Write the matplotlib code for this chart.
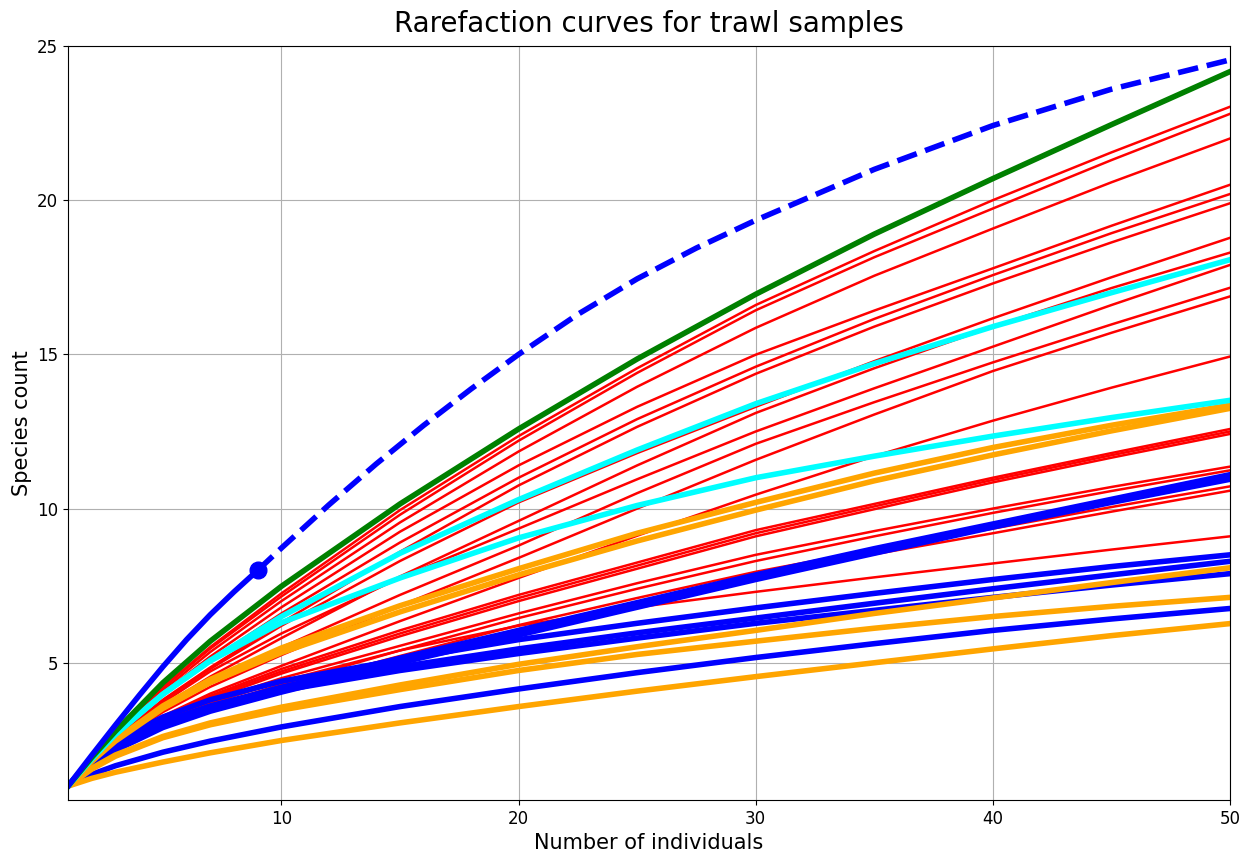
import matplotlib
matplotlib.use("Agg")
import matplotlib.pyplot as plt

# Sample sizes (number of individuals) at which curves were read
x_pts = [1, 2, 3, 5, 7, 10, 15, 20, 25, 30, 35, 40, 45, 50]

# Red samples (thin lines)
red_values = [
    [1, 1.90, 2.73, 4.21, 5.51, 7.25, 9.95, 12.35, 14.55, 16.60, 18.35, 20.00, 21.55, 23.03],
    [1, 1.90, 2.72, 4.18, 5.46, 7.15, 9.80, 12.20, 14.40, 16.43, 18.15, 19.73, 21.30, 22.80],
    [1, 1.89, 2.68, 4.10, 5.35, 7.00, 9.55, 11.85, 13.95, 15.86, 17.55, 19.08, 20.58, 22.00],
    [1, 1.88, 2.66, 4.02, 5.20, 6.80, 9.25, 11.40, 13.30, 14.99, 16.42, 17.79, 19.17, 20.50],
    [1, 1.86, 2.62, 3.94, 5.08, 6.60, 8.90, 11.00, 12.90, 14.60, 16.15, 17.57, 18.93, 20.20],
    [1, 1.84, 2.56, 3.80, 4.85, 6.30, 8.60, 10.75, 12.65, 14.37, 15.90, 17.30, 18.63, 19.90],
    [1, 1.84, 2.55, 3.77, 4.80, 6.20, 8.30, 10.20, 11.80, 13.30, 14.78, 16.17, 17.50, 18.78],
    [1, 1.80, 2.48, 3.60, 4.55, 5.80, 7.80, 9.60, 11.40, 13.10, 14.55, 15.90, 17.15, 18.30],
    [1, 1.82, 2.52, 3.70, 4.72, 5.95, 7.75, 9.35, 10.95, 12.50, 13.90, 15.25, 16.60, 17.90],
    [1, 1.78, 2.44, 3.50, 4.40, 5.50, 7.20, 8.80, 10.50, 12.10, 13.45, 14.74, 15.97, 17.16],
    [1, 1.76, 2.40, 3.40, 4.22, 5.25, 6.85, 8.40, 10.00, 11.58, 13.05, 14.46, 15.70, 16.88],
    [1, 1.72, 2.33, 3.27, 4.00, 4.90, 6.35, 7.75, 9.12, 10.45, 11.70, 12.85, 13.92, 14.93],
    [1, 1.73, 2.33, 3.23, 3.93, 4.80, 6.05, 7.20, 8.25, 9.30, 10.15, 11.00, 11.80, 12.58],
    [1, 1.72, 2.31, 3.20, 3.88, 4.72, 5.95, 7.10, 8.15, 9.20, 10.07, 10.93, 11.73, 12.50],
    [1, 1.70, 2.28, 3.15, 3.82, 4.65, 5.86, 7.00, 8.05, 9.10, 9.98, 10.85, 11.65, 12.42],
    [1, 1.72, 2.27, 3.11, 3.75, 4.50, 5.55, 6.60, 7.58, 8.50, 9.27, 10.00, 10.70, 11.36],
    [1, 1.66, 2.18, 2.98, 3.58, 4.30, 5.40, 6.45, 7.40, 8.30, 9.10, 9.86, 10.57, 11.24],
    [1, 1.68, 2.18, 2.96, 3.54, 4.20, 5.22, 6.22, 7.10, 7.95, 8.67, 9.35, 10.05, 10.72],
    [1, 1.66, 2.15, 2.90, 3.46, 4.10, 5.08, 6.05, 6.95, 7.80, 8.52, 9.20, 9.90, 10.58],
    [1, 1.73, 2.28, 3.08, 3.68, 4.40, 5.40, 6.20, 6.80, 7.30, 7.77, 8.22, 8.67, 9.10],
]

# Blue samples (thick lines)
blue_values = [
    [1, 1.72, 2.22, 2.98, 3.54, 4.20, 5.15, 6.05, 6.95, 7.85, 8.70, 9.50, 10.30, 11.10],
    [1, 1.68, 2.16, 2.90, 3.43, 4.05, 5.00, 5.90, 6.80, 7.70, 8.55, 9.40, 10.20, 10.95],
    [1, 1.89, 2.44, 3.24, 3.80, 4.40, 5.10, 5.75, 6.28, 6.78, 7.25, 7.70, 8.12, 8.50],
    [1, 1.86, 2.36, 3.08, 3.60, 4.20, 4.87, 5.45, 5.97, 6.45, 6.93, 7.40, 7.85, 8.29],
    [1, 1.85, 2.33, 3.03, 3.53, 4.10, 4.75, 5.30, 5.80, 6.28, 6.70, 7.12, 7.52, 7.89],
    [1, 1.38, 1.66, 2.10, 2.46, 2.92, 3.58, 4.15, 4.68, 5.17, 5.62, 6.05, 6.42, 6.76],
]

# Orange samples (thick lines)
orange_values = [
    [1, 1.82, 2.50, 3.60, 4.46, 5.48, 6.85, 8.05, 9.20, 10.20, 11.15, 11.98, 12.70, 13.35],
    [1, 1.80, 2.46, 3.52, 4.36, 5.33, 6.65, 7.85, 8.95, 9.95, 10.90, 11.74, 12.52, 13.25],
    [1, 1.58, 2.01, 2.61, 3.05, 3.56, 4.28, 4.95, 5.52, 6.05, 6.60, 7.10, 7.60, 8.08],
    [1, 1.55, 1.97, 2.57, 2.99, 3.47, 4.13, 4.75, 5.27, 5.70, 6.12, 6.50, 6.83, 7.12],
    [1, 1.25, 1.45, 1.78, 2.08, 2.48, 3.05, 3.58, 4.08, 4.55, 5.00, 5.45, 5.88, 6.27],
]

# Cyan samples (thick lines)
cyan_values = [
    [1, 1.88, 2.68, 3.98, 5.08, 6.50, 8.55, 10.29, 11.90, 13.40, 14.70, 15.90, 17.00, 18.07],
    [1, 1.88, 2.68, 3.98, 5.06, 6.30, 7.75, 9.05, 10.10, 11.00, 11.70, 12.35, 12.95, 13.51],
]

# Green sample (thick line)
green_values = [1, 1.93, 2.78, 4.35, 5.70, 7.48, 10.15, 12.58, 14.85, 16.95, 18.90, 20.70, 22.45, 24.17]

# Blue sample with extrapolation: observed part and extrapolated part
obs_x = [1, 2, 3, 4, 5, 6, 7, 8, 9]
obs_y = [1, 2.00, 2.98, 3.94, 4.87, 5.75, 6.56, 7.30, 8.00]
extrap_x = [9, 10, 12, 14, 16, 18, 20, 22.5, 25, 27.5, 30, 35, 40, 45, 50]
extrap_y = [8.00, 8.72, 10.12, 11.45, 12.70, 13.88, 15.00, 16.30, 17.45, 18.45,
            19.35, 21.00, 22.42, 23.60, 24.55]

fig = plt.figure(figsize=(12.59, 8.56), dpi=100)
ax = fig.add_axes([68 / 1259, 1 - 800 / 856, (1230 - 68) / 1259, (800 - 46) / 856])

for ys in red_values:
    ax.plot(x_pts, ys, color="red", lw=1.8)
for ys in blue_values:
    ax.plot(x_pts, ys, color="blue", lw=4)
for ys in orange_values:
    ax.plot(x_pts, ys, color="orange", lw=4)
for ys in cyan_values:
    ax.plot(x_pts, ys, color="cyan", lw=4)
ax.plot(x_pts, green_values, color="green", lw=4)

ax.plot(obs_x, obs_y, color="blue", lw=4)
ax.plot(extrap_x, extrap_y, color="blue", lw=4, ls="--")
ax.plot([obs_x[-1]], [obs_y[-1]], "o", color="blue", markersize=12)

ax.set_xlim(1, 50)
ax.set_ylim(0.55, 25)
ax.set_xticks([10, 20, 30, 40, 50])
ax.set_yticks([5, 10, 15, 20, 25])
ax.grid(True, color="#b0b0b0", lw=0.8)
ax.set_axisbelow(True)
ax.tick_params(labelsize=12)
ax.set_xlabel("Number of individuals", fontsize=15)
ax.set_ylabel("Species count", fontsize=15)
ax.set_title("Rarefaction curves for trawl samples", fontsize=20, pad=10)

fig.savefig("out.png", dpi=100)
